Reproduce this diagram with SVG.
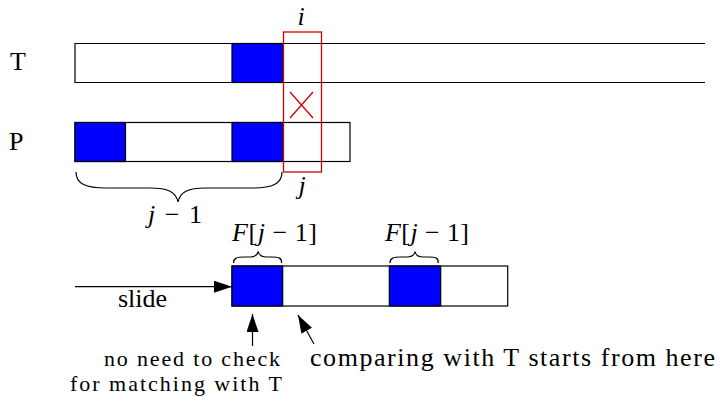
<svg xmlns="http://www.w3.org/2000/svg" width="721" height="397" viewBox="0 0 721 397">
<defs>
<style>
.box{fill:#fff;stroke:#000;stroke-width:1.2}
.blk{fill:#0000ff;stroke:#000;stroke-width:1.2}
.ln{fill:none;stroke:#000;stroke-width:1.2}
.red{fill:none;stroke:#d40000;stroke-width:1.3}
text{font-family:'Times New Roman',Times,'Liberation Serif','DejaVu Serif',Tinos,serif;font-size:26px;fill:#000}
.it{font-style:italic}
.sm{font-size:22px}
</style>
<marker id="ah" markerUnits="userSpaceOnUse" markerWidth="20" markerHeight="12" refX="18" refY="6" orient="auto">
<path d="M0,0 L18,6 L0,12 z" fill="#000"/>
</marker>
</defs>
<g id="labels">
<text x="10" y="70">T</text>
<text x="9" y="150">P</text>
<text class="it" x="301" y="25" text-anchor="middle">i</text>
<text class="it" x="302" y="194" text-anchor="middle">j</text>
<text x="148" y="223" textLength="54"><tspan class="it">j</tspan> − 1</text>
</g>
<g id="T-strip">
<path class="ln" d="M705,43.5 H75 V82.5 H705"/>
<rect class="blk" x="232" y="43.5" width="51" height="39"/>
</g>
<g id="P-strip">
<rect class="box" x="75" y="122.5" width="275" height="39"/>
<rect class="blk" x="75" y="122.5" width="50.5" height="39"/>
<rect class="blk" x="232" y="122.5" width="51" height="39"/>
</g>
<g id="mismatch">
<rect class="red" x="283.5" y="32" width="38" height="140"/>
<path class="red" d="M290,92 L313,118 M313,92 L290,118" stroke-width="1.6"/>
</g>
<g id="brace-j1">
<path class="ln" d="M76,172 C76,184 86,188 106,188 H150 C168,188 176,192 178,202 C180,192 188,188 206,188 H252 C272,188 282,184 282,172"/>
</g>
<g id="shifted-P">
<rect class="box" x="232" y="266" width="275.7" height="40"/>
<rect class="blk" x="232" y="266" width="50.7" height="40"/>
<rect class="blk" x="389.3" y="266" width="51.4" height="40"/>
</g>
<g id="F-labels">
<path class="ln" d="M233.5,263 C233.5,258 237,257 244,257 H250 C255,257 257.5,255 258.3,251.5 C259,255 261.5,257 266.5,257 H272 C279,257 281.7,258 281.7,263"/>
<path class="ln" d="M390,263 C390,258 393.5,257 400.5,257 H407 C412,257 414.3,255 415,251.5 C415.7,255 418,257 423,257 H429 C436,257 438.3,258 438.3,263"/>
<text x="232" y="241" textLength="85"><tspan class="it">F</tspan>[<tspan class="it">j</tspan> − 1]</text>
<text x="385" y="241" textLength="84"><tspan class="it">F</tspan>[<tspan class="it">j</tspan> − 1]</text>
</g>
<g id="connectors">
<line class="ln" x1="75" y1="286.7" x2="232" y2="286.7" marker-end="url(#ah)"/>
<line class="ln" x1="252.5" y1="346" x2="252.5" y2="314" marker-end="url(#ah)"/>
<line class="ln" x1="314" y1="344" x2="298" y2="315" marker-end="url(#ah)"/>
</g>
<g id="notes">
<text x="118" y="307" textLength="49">slide</text>
<text class="sm" x="280" y="366" text-anchor="end" textLength="176">no need to check</text>
<text class="sm" x="282" y="391" text-anchor="end" textLength="212">for matching with T</text>
<text x="310" y="366" textLength="405">comparing with T starts from here</text>
</g>
</svg>
